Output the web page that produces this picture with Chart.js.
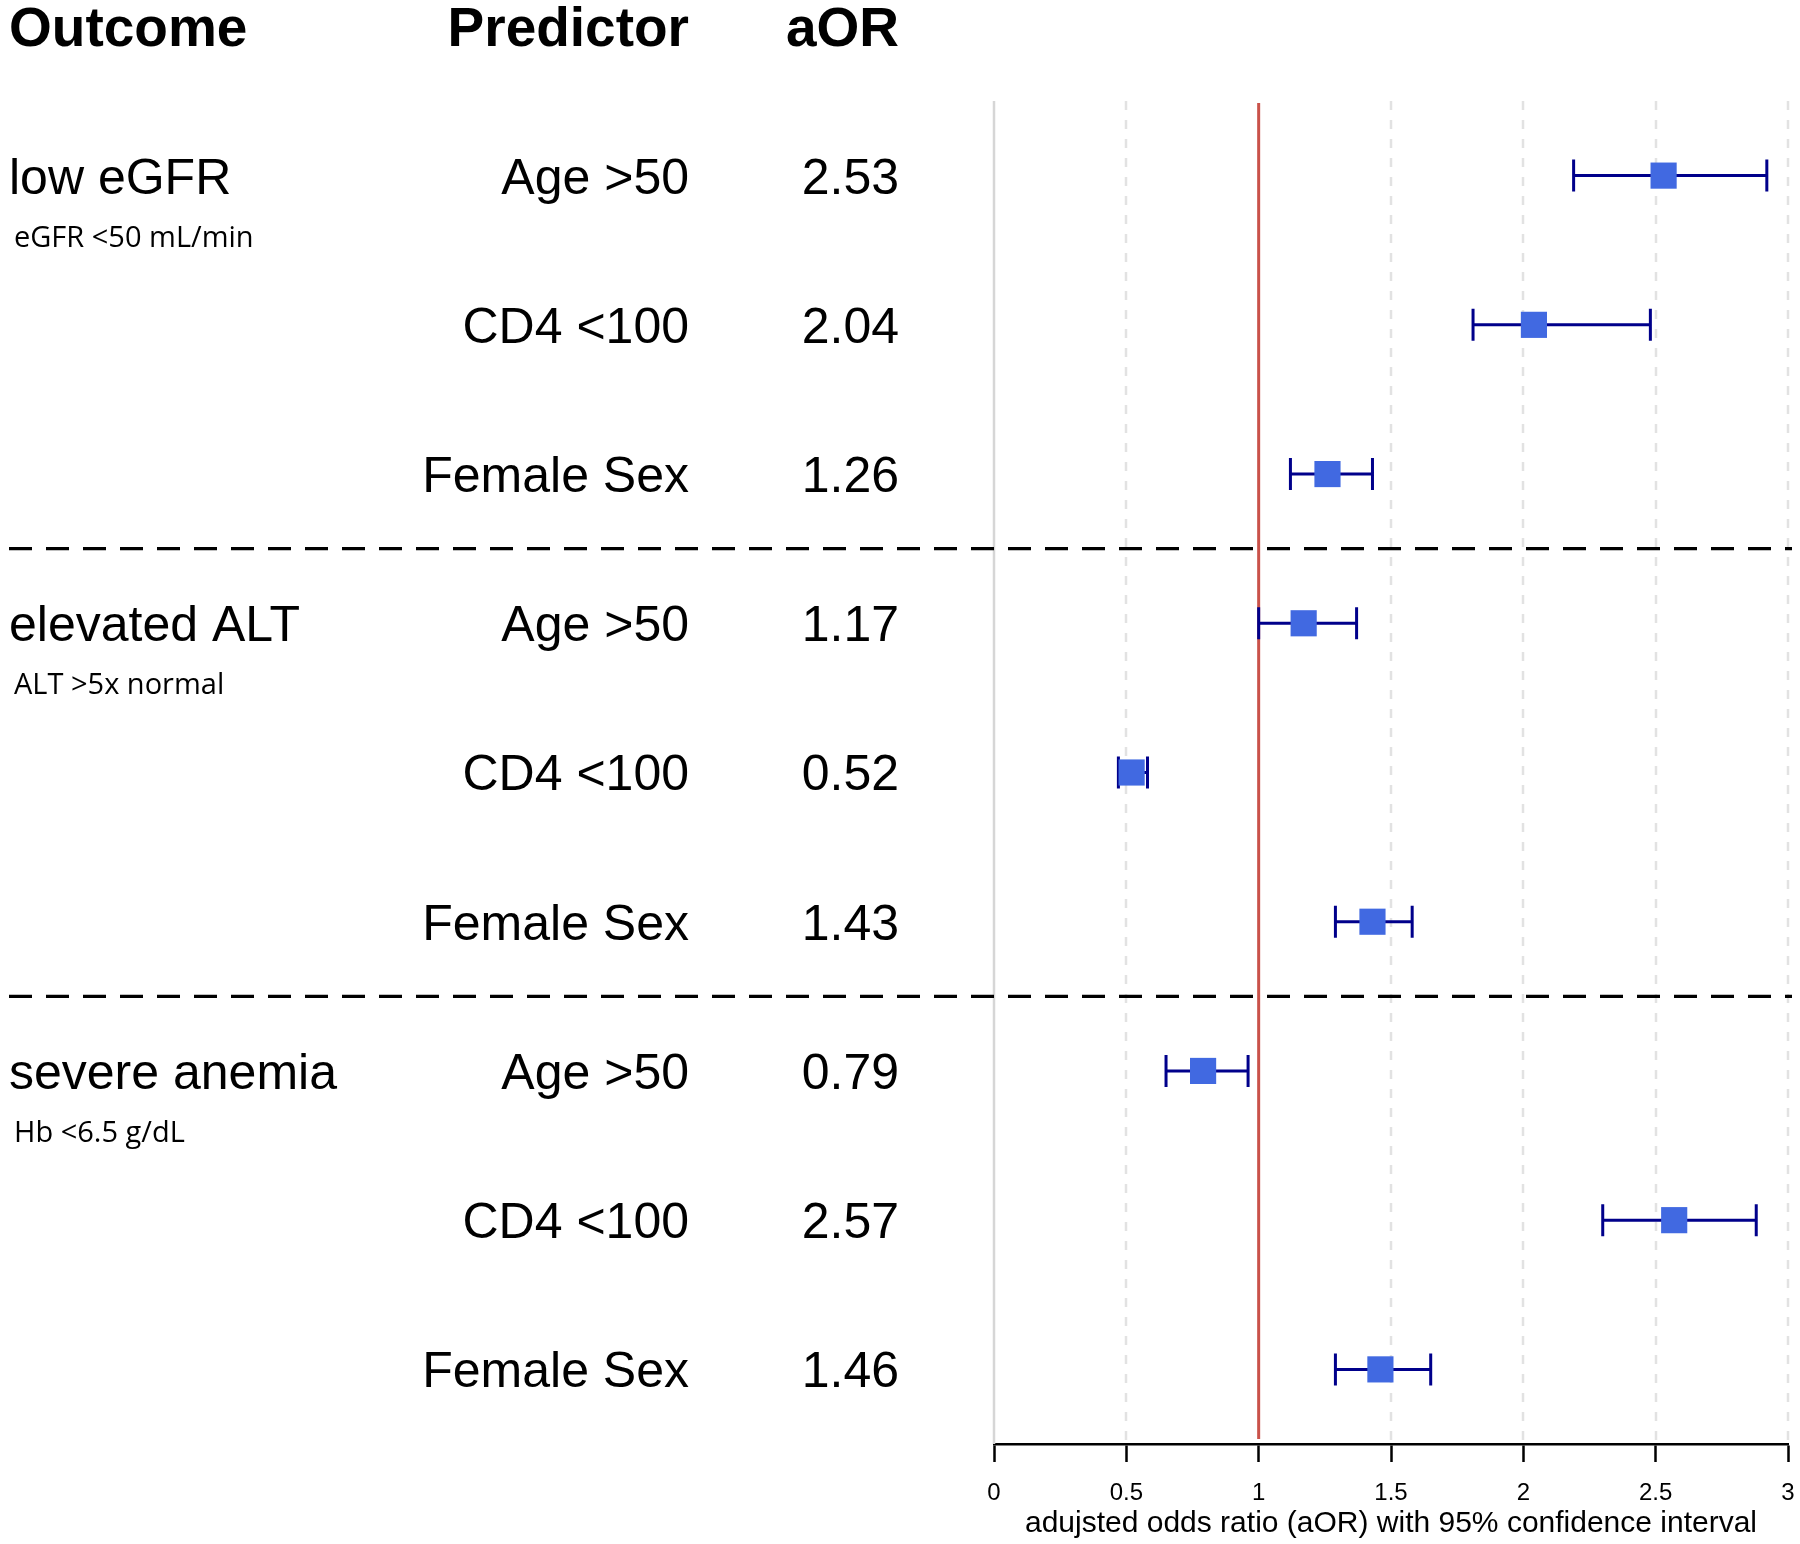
<!DOCTYPE html>
<html>
<head>
<meta charset="utf-8">
<script src="https://cdn.jsdelivr.net/npm/chart.js@4.4.1/dist/chart.umd.min.js"></script>
<style>
  html, body { margin: 0; padding: 0; background: #fff; }
  #chart { display: block; }
</style>
</head>
<body>
<canvas id="chart" width="1800" height="1544"></canvas>
<script>
// data
const outcomes = ['low eGFR', 'elevated ALT', 'severe anemia'];
const outcomeNotes = ['eGFR <50 mL/min', 'ALT >5x normal', 'Hb <6.5 g/dL'];
const predictors = ['Age >50', 'CD4 <100', 'Female Sex',
                    'Age >50', 'CD4 <100', 'Female Sex',
                    'Age >50', 'CD4 <100', 'Female Sex'];
const aorValues = [2.53, 2.04, 1.26, 1.17, 0.52, 1.43, 0.79, 2.57, 1.46];
const ciLower   = [2.19, 1.81, 1.12, 1.00, 0.47, 1.29, 0.65, 2.30, 1.29];
const ciUpper   = [2.92, 2.48, 1.43, 1.37, 0.58, 1.58, 0.96, 2.88, 1.65];
const xTickValues = [0, 0.5, 1, 1.5, 2, 2.5, 3];
const headers = ['Outcome', 'Predictor', 'aOR'];
const axisTitle = 'adujsted odds ratio (aOR) with 95% confidence interval';

const FONT = '"Liberation Sans", Arial, sans-serif';
const rowsPerOutcome = 3;

// grid, separators, reference line and CI whiskers (under the squares)
const forestPlugin = {
  id: 'forest',
  beforeDatasetsDraw(chart) {
    const ctx = chart.ctx;
    const xs = chart.scales.x, ys = chart.scales.y;
    const area = chart.chartArea;
    ctx.save();

    // vertical grid lines
    xTickValues.forEach(v => {
      if (v === 1) return;
      const px = Math.round(xs.getPixelForValue(v));
      ctx.beginPath();
      ctx.lineWidth = 2.5;
      ctx.strokeStyle = v === 0 ? '#d6d6d6' : '#e2e2e2';
      ctx.setLineDash(v === 0 ? [] : [9, 10]);
      ctx.moveTo(px, area.top);
      ctx.lineTo(px, area.bottom);
      ctx.stroke();
    });

    // group separators
    ctx.setLineDash([23, 14]);
    ctx.lineWidth = 3.3;
    ctx.strokeStyle = '#000';
    for (let g = 1; g < outcomes.length; g++) {
      const py = ys.getPixelForValue(g * rowsPerOutcome - 0.5);
      ctx.beginPath();
      ctx.moveTo(9, py);
      ctx.lineTo(1792, py);
      ctx.stroke();
    }

    // no-effect line at 1
    ctx.setLineDash([]);
    const x1 = xs.getPixelForValue(1);
    ctx.beginPath();
    ctx.lineWidth = 3;
    ctx.strokeStyle = '#c9524a';
    ctx.moveTo(x1, area.top + 2);
    ctx.lineTo(x1, area.bottom - 5);
    ctx.stroke();

    // confidence intervals
    ctx.lineWidth = 3;
    ctx.strokeStyle = '#00008b';
    aorValues.forEach((v, i) => {
      const py = ys.getPixelForValue(i);
      const lo = xs.getPixelForValue(ciLower[i]);
      const hi = xs.getPixelForValue(ciUpper[i]);
      ctx.beginPath();
      ctx.moveTo(lo, py); ctx.lineTo(hi, py);
      ctx.moveTo(lo, py - 16); ctx.lineTo(lo, py + 16);
      ctx.moveTo(hi, py - 16); ctx.lineTo(hi, py + 16);
      ctx.stroke();
    });
    ctx.restore();
  },
  afterDraw(chart) {
    const ctx = chart.ctx;
    const ys = chart.scales.y;
    ctx.save();
    ctx.fillStyle = '#000';
    ctx.textBaseline = 'alphabetic';

    // column headers
    ctx.font = 'bold 55px ' + FONT;
    ctx.textAlign = 'left';
    ctx.fillText(headers[0], 9, 46);
    ctx.textAlign = 'right';
    ctx.fillText(headers[1], 689, 46);
    ctx.fillText(headers[2], 899, 46);

    // rows
    ctx.font = '50px ' + FONT;
    const capShift = 0.358 * 50;
    predictors.forEach((p, i) => {
      const py = ys.getPixelForValue(i) + capShift;
      ctx.textAlign = 'right';
      ctx.fillText(p, 689, py);
      ctx.fillText(aorValues[i].toFixed(2), 899, py);
    });

    // outcome names and definitions
    outcomes.forEach((o, g) => {
      const row = g * rowsPerOutcome;
      ctx.textAlign = 'left';
      ctx.font = '50px ' + FONT;
      ctx.fillText(o, 9, ys.getPixelForValue(row) + capShift);
      ctx.font = '29px "Open Sans", sans-serif';
      ctx.textBaseline = 'middle';
      ctx.fillText(outcomeNotes[g], 14, ys.getPixelForValue(row + 0.42));
      ctx.textBaseline = 'alphabetic';
    });
    ctx.restore();
  }
};

new Chart(document.getElementById('chart'), {
  type: 'scatter',
  data: {
    datasets: [{
      data: aorValues.map((v, i) => ({ x: v, y: i })),
      pointStyle: 'rect',
      pointRadius: 18.5,
      pointHoverRadius: 18.5,
      backgroundColor: '#4169e1',
      borderColor: '#4169e1',
      borderWidth: 0
    }]
  },
  options: {
    responsive: false,
    devicePixelRatio: 1,
    animation: false,
    events: [],
    layout: { autoPadding: false, padding: { left: 994, right: 12, top: 101, bottom: 2 } },
    plugins: { legend: { display: false }, tooltip: { enabled: false } },
    scales: {
      x: {
        type: 'linear',
        min: 0,
        max: 3,
        afterBuildTicks: axis => { axis.ticks = xTickValues.map(v => ({ value: v })); },
        afterFit: axis => {
          axis.height = 98;
          axis.paddingLeft = 0;
          axis.paddingRight = 0;
        },
        grid: {
          drawOnChartArea: false,
          drawTicks: true,
          tickLength: 18,
          tickWidth: 2.5,
          tickColor: '#000'
        },
        border: { display: true, color: '#000', width: 2.5 },
        ticks: {
          color: '#000',
          padding: 17,
          maxRotation: 0,
          autoSkip: false,
          font: { family: FONT, size: 24 },
          callback: v => String(v)
        },
        title: {
          display: true,
          text: axisTitle,
          color: '#000',
          font: { family: FONT, size: 30 },
          padding: { top: 0, bottom: 0 }
        }
      },
      y: {
        type: 'linear',
        display: false,
        reverse: true,
        min: -0.5,
        max: 8.5
      }
    }
  },
  plugins: [forestPlugin]
});
</script>
</body>
</html>
